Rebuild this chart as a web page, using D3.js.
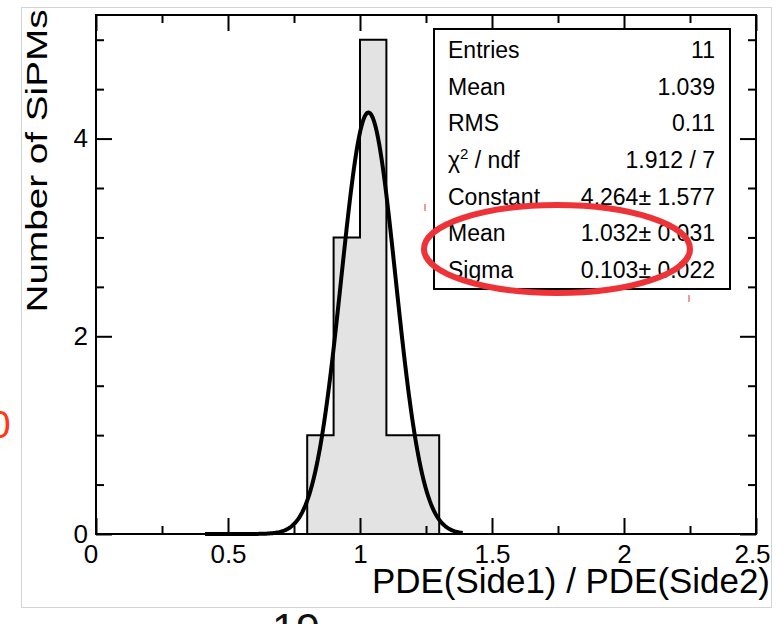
<!DOCTYPE html>
<html>
<head>
<meta charset="utf-8">
<script src="https://cdn.jsdelivr.net/npm/d3@7"></script>
<style>
  html, body { margin: 0; padding: 0; background: #fff; }
  svg { display: block; font-family: "Liberation Sans", Arial, Helvetica, sans-serif; }
</style>
</head>
<body>
<svg id="chart" width="784" height="624"></svg>
<script>
// ---- data ----
const binLow = [0.8, 0.9, 1.0, 1.1, 1.2];
const binCounts = [1, 3, 5, 1, 1];
const binWidth = 0.1;
const xMajorTicks = [0, 0.5, 1, 1.5, 2, 2.5];
const xTickLabels = ["0", "0.5", "1", "1.5", "2", "2.5"];
const yMajorTicks = [0, 2, 4];
const yTickLabels = ["0", "2", "4"];
const fitConstant = 4.264;
const fitMean = 1.032;
const fitSigma = 0.103;
const fitRange = [0.413, 1.39];
const statNames = ["Entries", "Mean", "RMS", "CHI", "Constant", "Mean", "Sigma"];
const statValues = ["11", "1.039", "0.11", "1.912 / 7", "4.264\u00b1 1.577", "1.032\u00b1 0.031", "0.103\u00b1 0.022"];

// ---- layout ----
const svg = d3.select("#chart");
const x = d3.scaleLinear().domain([0, 2.5]).range([96, 756]);
const y = d3.scaleLinear().domain([0, 5.25]).range([534, 15]);

// outer faint frame
svg.append("rect").attr("x", 21.5).attr("y", 7.5).attr("width", 750).attr("height", 600)
  .attr("fill", "none").attr("stroke", "#d4d4d4").attr("stroke-width", 1);

// histogram fill
const fillPts = [];
binLow.forEach((lo, i) => { fillPts.push([lo, binCounts[i]]); });
fillPts.push([binLow[binLow.length - 1] + binWidth, binCounts[binCounts.length - 1]]);
const area = d3.area().curve(d3.curveStepAfter)
  .x(d => x(d[0])).y0(y(0)).y1(d => y(d[1]));
svg.append("path").datum(fillPts).attr("d", area).attr("fill", "#e3e3e3");

// histogram outline
const outline = [[binLow[0], 0]];
binLow.forEach((lo, i) => { outline.push([lo, binCounts[i]]); outline.push([lo + binWidth, binCounts[i]]); });
outline.push([binLow[binLow.length - 1] + binWidth, 0]);
svg.append("path").datum(outline)
  .attr("d", d3.line().x(d => x(d[0])).y(d => y(d[1])))
  .attr("fill", "none").attr("stroke", "#000").attr("stroke-width", 2);

// fit curve (gaussian with the fitted parameters shown in the stat box)
const gx = d3.range(fitRange[0], fitRange[1] + 1e-9, 0.004);
const fitPts = gx.map(v => [v, fitConstant * Math.exp(-0.5 * Math.pow((v - fitMean) / fitSigma, 2))]);
svg.append("path").datum(fitPts)
  .attr("d", d3.line().x(d => x(d[0])).y(d => y(d[1])))
  .attr("fill", "none").attr("stroke", "#000").attr("stroke-width", 4).attr("stroke-linejoin", "round");

// frame
svg.append("rect").attr("x", x(0)).attr("y", y(5.25)).attr("width", x(2.5) - x(0)).attr("height", y(0) - y(5.25))
  .attr("fill", "none").attr("stroke", "#000").attr("stroke-width", 2);

// axes
const xMinor = d3.range(0.25, 2.5, 0.5);
const yMinor = d3.range(0.5, 5.25, 0.5).filter(v => Math.abs(v % 2) > 1e-9);

const gxAxis = svg.append("g").attr("transform", `translate(0,${y(0)})`)
  .call(d3.axisBottom(x).tickValues(xMajorTicks).tickSizeInner(-16).tickSizeOuter(0).tickPadding(10.5)
    .tickFormat((d, i) => xTickLabels[i]));
svg.append("g").attr("transform", `translate(0,${y(0)})`)
  .call(d3.axisBottom(x).tickValues(xMinor).tickSizeInner(-8).tickSizeOuter(0).tickFormat(""));
svg.append("g").attr("transform", `translate(0,${y(5.25)})`)
  .call(d3.axisTop(x).tickValues(xMajorTicks).tickSizeInner(-16).tickSizeOuter(0).tickFormat(""));
svg.append("g").attr("transform", `translate(0,${y(5.25)})`)
  .call(d3.axisTop(x).tickValues(xMinor).tickSizeInner(-8).tickSizeOuter(0).tickFormat(""));

const gyAxis = svg.append("g").attr("transform", `translate(${x(0)},0)`)
  .call(d3.axisLeft(y).tickValues(yMajorTicks).tickSizeInner(-16).tickSizeOuter(0).tickPadding(8)
    .tickFormat((d, i) => yTickLabels[i]));
svg.append("g").attr("transform", `translate(${x(0)},0)`)
  .call(d3.axisLeft(y).tickValues(yMinor).tickSizeInner(-8).tickSizeOuter(0).tickFormat(""));
svg.append("g").attr("transform", `translate(${x(2.5)},0)`)
  .call(d3.axisRight(y).tickValues(yMajorTicks).tickSizeInner(-16).tickSizeOuter(0).tickFormat(""));
svg.append("g").attr("transform", `translate(${x(2.5)},0)`)
  .call(d3.axisRight(y).tickValues(yMinor).tickSizeInner(-8).tickSizeOuter(0).tickFormat(""));

svg.selectAll(".domain").remove();
svg.selectAll(".tick line").attr("stroke", "#000").attr("stroke-width", 2);
svg.selectAll(".tick text").attr("font-size", 26).attr("fill", "#000")
  .attr("font-family", "'Liberation Sans', Arial, sans-serif");
gxAxis.selectAll(".tick text").attr("dx", d => d === 0 ? -5.5 : (d === 2.5 ? -4 : 0));

// axis titles
svg.append("text").attr("transform", "translate(47,161) rotate(-90)")
  .attr("text-anchor", "middle").attr("font-size", 30)
  .attr("textLength", 303).attr("lengthAdjust", "spacingAndGlyphs")
  .text("Number of SiPMs");
svg.append("text").attr("x", 372).attr("y", 593).attr("font-size", 35)
  .attr("textLength", 398).attr("lengthAdjust", "spacingAndGlyphs")
  .text("PDE(Side1) / PDE(Side2)");

// stat box
svg.append("rect").attr("x", 434).attr("y", 29).attr("width", 296).attr("height", 260)
  .attr("fill", "#fff").attr("stroke", "#000").attr("stroke-width", 2);
const rowY = d3.scalePoint().domain(d3.range(statNames.length)).range([58, 278]);
statNames.forEach((n, i) => {
  const t = svg.append("text").attr("x", 448).attr("y", rowY(i)).attr("font-size", 23);
  if (n === "CHI") {
    t.append("tspan").text("\u03c7");
    t.append("tspan").attr("dy", -9).attr("font-size", 15).text("2");
    t.append("tspan").attr("dy", 9).text(" / ndf");
  } else {
    t.text(n);
  }
  svg.append("text").attr("x", 715).attr("y", rowY(i)).attr("font-size", 23)
    .attr("text-anchor", "end").text(statValues[i]);
});

// red annotation ellipse
svg.append("ellipse").attr("cx", 557).attr("cy", 249).attr("rx", 133).attr("ry", 44)
  .attr("fill", "none").attr("stroke", "#ee3338").attr("stroke-width", 6);
svg.append("line").attr("x1", 425).attr("x2", 425).attr("y1", 204).attr("y2", 211)
  .attr("stroke", "#ee3338").attr("stroke-width", 1);
svg.append("line").attr("x1", 689).attr("x2", 689).attr("y1", 295).attr("y2", 302)
  .attr("stroke", "#ee3338").attr("stroke-width", 1);

// cut-off page fragments
svg.append("text").attr("x", -11).attr("y", 438).attr("font-size", 39).attr("fill", "#ff3a12").text("0");
svg.append("text").attr("x", 296).attr("y", 643).attr("text-anchor", "middle").attr("font-size", 43)
  .attr("fill", "#111").text("19");
</script>
</body>
</html>
